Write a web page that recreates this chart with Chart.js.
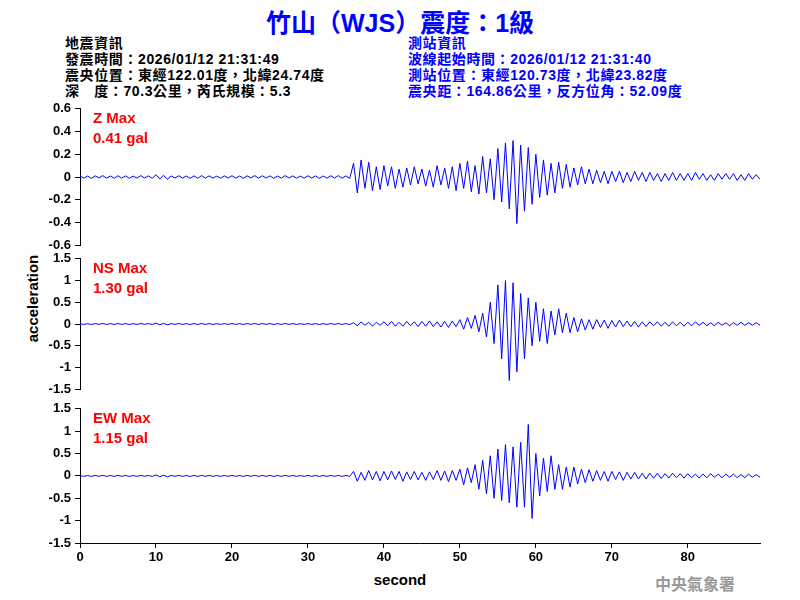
<!DOCTYPE html>
<html><head><meta charset="utf-8">
<script src="https://cdn.jsdelivr.net/npm/chart.js@4"></script>
<style>
body{margin:0;width:800px;height:600px;background:#fff;position:relative;overflow:hidden;font-family:"Liberation Sans","Noto Sans CJK TC",sans-serif}
.t{position:absolute;white-space:nowrap}
canvas{position:absolute;left:0}
.h{font-family:"Liberation Sans","Noto Sans CJK TC";font-size:14px;font-weight:bold;line-height:16px;letter-spacing:0.6px}
.h div{height:16px;line-height:16px}
</style></head><body>
<div class="t" style="left:0;width:800px;top:3px;text-align:center;color:#0000ff;font-size:25px;font-weight:bold;font-family:'Liberation Sans','Noto Sans CJK TC'">竹山（WJS）震度：1級</div>
<div class="t h" style="left:65px;top:35px;color:#000"><div>地震資訊</div><div>發震時間：2026/01/12 21:31:49</div><div>震央位置：東經122.01度，北緯24.74度</div><div>深　度：70.3公里，芮氏規模：5.3</div></div>
<div class="t h" style="left:408px;top:35px;color:#0000ff"><div>測站資訊</div><div>波線起始時間：2026/01/12 21:31:40</div><div>測站位置：東經120.73度，北緯23.82度</div><div>震央距：164.86公里，反方位角：52.09度</div></div>
<div class="t" style="left:-18px;top:290px;transform:rotate(-90deg);font-size:15px;font-weight:bold;width:100px;text-align:center">acceleration</div>
<div class="t" style="left:350px;width:100px;text-align:center;top:571px;font-size:15px;font-weight:bold">second</div>
<div class="t" style="left:655px;top:571px;font-size:16px;font-weight:bold;color:#999;font-family:'Noto Sans CJK TC'">中央氣象署</div>
<canvas id="c1" style="top:97px"></canvas>
<canvas id="c2" style="top:247px"></canvas>
<canvas id="c3" style="top:397px"></canvas>
<div class="t" style="left:93px;top:108px;color:#f00;font-size:15px;font-weight:bold;line-height:20px">Z Max<br>0.41 gal</div>
<div class="t" style="left:93px;top:258px;color:#f00;font-size:15px;font-weight:bold;line-height:20px">NS Max<br>1.30 gal</div>
<div class="t" style="left:93px;top:408px;color:#f00;font-size:15px;font-weight:bold;line-height:20px">EW Max<br>1.15 gal</div>
<script>
const dt = 0.5;
const noise = [0.01,-0.01,0.008,-0.012,0.01,-0.008,0.012,-0.01,0.009,-0.011,
0.011,-0.009,0.01,-0.012,0.008,-0.01,0.012,-0.009,0.01,-0.011,
0.02,-0.018,0.015,-0.02,0.01,-0.009,0.011,-0.01,0.009,-0.012,
0.01,-0.011,0.012,-0.009,0.01,-0.01,0.008,-0.011,0.01,-0.009,
0.011,-0.01,0.009,-0.012,0.01,-0.008,0.012,-0.01,0.011,-0.009,
0.01,-0.011,0.009,-0.01,0.012,-0.009,0.01,-0.011,0.008,-0.01,
0.011,-0.01,0.01,-0.012,0.009,-0.01,0.011,-0.009,0.012,-0.011,0.01,-0.012];
const zTail = [0.12,-0.14,0.15,-0.1,0.13,-0.12,0.09,-0.11,
0.1,-0.08,0.09,-0.1,0.07,-0.09,0.08,-0.07,0.09,-0.06,
0.07,-0.08,0.06,-0.09,0.1,-0.07,0.08,-0.1,0.09,-0.12,
0.12,-0.1,0.14,-0.13,0.1,-0.15,0.18,-0.14,0.16,-0.2,
0.25,-0.22,0.3,-0.28,0.32,-0.41,0.28,-0.3,0.26,-0.24,
0.2,-0.18,0.15,-0.16,0.12,-0.14,0.13,-0.1,0.11,-0.09,
0.08,-0.07,0.09,-0.06,0.07,-0.06,0.06,-0.05,0.05,-0.06,
0.05,-0.04,0.05,-0.05,0.04,-0.04,0.05,-0.03,0.04,-0.04,
0.04,-0.03,0.03,-0.04,0.03,-0.03,0.04,-0.03,0.03,-0.03,
0.03,-0.03,0.04,-0.02,0.03,-0.03,0.02,-0.03,0.03,-0.02,
0.03,-0.02,0.03,-0.03,0.02,-0.03,0.03,-0.02,0.02,-0.02];
const nsTail = [0.03,-0.04,0.05,-0.03,0.04,-0.05,0.04,-0.03,
0.05,-0.04,0.06,-0.05,0.04,-0.05,0.06,-0.04,0.05,-0.06,
0.06,-0.05,0.07,-0.06,0.05,-0.07,0.06,-0.08,0.07,-0.06,
0.1,-0.12,0.15,-0.1,0.2,-0.18,0.25,-0.3,0.5,-0.45,
0.9,-0.8,1.0,-1.3,0.95,-1.1,0.7,-0.8,0.6,-0.5,
0.5,-0.4,0.35,-0.45,0.3,-0.25,0.35,-0.2,0.25,-0.2,
0.15,-0.18,0.12,-0.14,0.1,-0.12,0.1,-0.08,0.09,-0.1,
0.08,-0.07,0.09,-0.06,0.07,-0.06,0.06,-0.07,0.05,-0.06,
0.05,-0.04,0.05,-0.05,0.04,-0.05,0.05,-0.04,0.04,-0.05,
0.04,-0.04,0.05,-0.03,0.04,-0.04,0.03,-0.04,0.04,-0.03,
0.03,-0.04,0.03,-0.03,0.04,-0.03,0.03,-0.03,0.03,-0.03];
const ewTail = [0.1,-0.12,0.08,-0.1,0.12,-0.09,0.1,-0.11,
0.1,-0.09,0.11,-0.08,0.1,-0.12,0.09,-0.08,0.1,-0.09,
0.08,-0.1,0.09,-0.08,0.12,-0.1,0.11,-0.13,0.12,-0.1,
0.15,-0.2,0.18,-0.15,0.25,-0.3,0.35,-0.4,0.45,-0.5,
0.6,-0.55,0.7,-0.6,0.65,-0.7,0.75,-0.7,1.15,-0.95,
0.5,-0.45,0.4,-0.35,0.45,-0.3,0.25,-0.3,0.2,-0.25,
0.2,-0.18,0.15,-0.15,0.14,-0.12,0.12,-0.1,0.1,-0.12,
0.1,-0.08,0.09,-0.1,0.08,-0.07,0.08,-0.07,0.06,-0.07,
0.06,-0.05,0.06,-0.06,0.05,-0.05,0.06,-0.04,0.05,-0.05,
0.05,-0.04,0.04,-0.05,0.04,-0.04,0.05,-0.03,0.04,-0.04,
0.04,-0.03,0.04,-0.04,0.03,-0.04,0.04,-0.03,0.03,-0.03];
const zVals = noise.concat(zTail), nsVals = noise.concat(nsTail), ewVals = noise.concat(ewTail);
const xTicks = [0,10,20,30,40,50,60,70,80];

function mk(id, vals, ymax, step, showX, h){
  const cv = document.getElementById(id);
  cv.width = 800; cv.height = h; cv.style.width='800px'; cv.style.height=h+'px';
  const pts = vals.map((v,i)=>({x:i*dt,y:v}));
  const tickFont = {family:'Liberation Sans',size:13,weight:'bold'};
  const xs = {type:'linear',min:0,max:89.5,display:showX,
          afterBuildTicks:s=>{s.ticks=xTicks.map(v=>({value:v}));},
          ticks:{color:'#000',font:tickFont,maxRotation:0,padding:2,autoSkip:false},
          grid:{drawOnChartArea:false,tickLength:5,color:'#000'},border:{color:'#000'}};
  if(showX) xs.afterFit = s=>{s.height=22;};
  new Chart(cv,{type:'line',
    data:{datasets:[{data:pts,borderColor:'#0000ff',borderWidth:1,pointRadius:0,tension:0}]},
    options:{responsive:false,animation:false,plugins:{legend:{display:false},tooltip:{enabled:false}},
      layout:{padding:{top:8,bottom:showX?0:8,right:40,left:0}},
      scales:{
        x:xs,
        y:{min:-ymax,max:ymax,afterFit:s=>{s.width=80;},
          ticks:{stepSize:step,autoSkip:false,color:'#000',font:tickFont,padding:4,
            callback:v=>String(Math.round(v*10)/10)},
          grid:{drawOnChartArea:false,tickLength:5,color:'#000'},border:{color:'#000'}}
      }}});
}
mk('c1',zVals,0.6,0.2,false,160);
mk('c2',nsVals,1.5,0.5,false,154);
mk('c3',ewVals,1.5,0.5,true,168);
</script></body></html>
